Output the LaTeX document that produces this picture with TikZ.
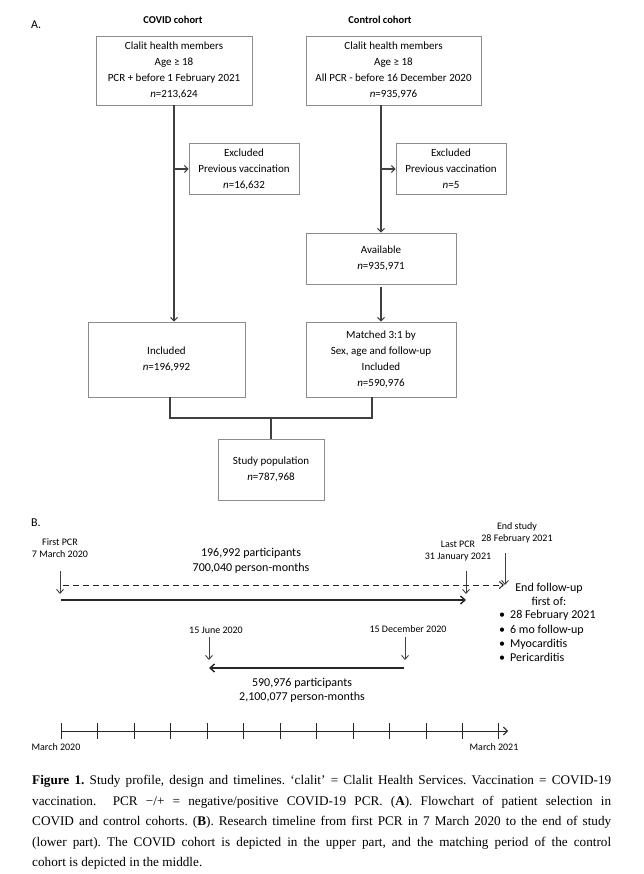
\documentclass[tikz,border=0pt]{standalone}
\usepackage{fontspec}
\setmainfont{Carlito}
\newfontfamily\capfont{Liberation Serif}
\usetikzlibrary{arrows.meta}
\definecolor{boxgray}{HTML}{8C8C8C}
\definecolor{linegray}{HTML}{404040}
\tikzset{
  box/.style={draw=boxgray, line width=0.8pt, align=center, inner sep=0pt,
    font=\fontsize{11}{16}\selectfont},
  conn/.style={draw=linegray, line width=1.1pt},
  arr/.style={conn, -{Straight Barb[length=3.5pt,width=7pt]}},
  lbl/.style={align=center, inner sep=0pt, font=\fontsize{10}{12}\selectfont},
  big/.style={align=center, inner sep=0pt, font=\fontsize{12}{15}\selectfont},
  head/.style={inner sep=0pt, font=\fontsize{10.5}{12}\selectfont\bfseries},
  tarr/.style={draw=linegray, line width=0.9pt, -{Straight Barb[length=4pt,width=7pt]}},
  tline/.style={draw=black!85, line width=1.4pt, -{Straight Barb[length=4.5pt,width=8pt]}},
  tick/.style={draw=black!85, line width=1pt}
}
\begin{document}
\begin{tikzpicture}[x=1pt,y=-1pt]
\useasboundingbox (0,0) rectangle (644,874);

% ---------- Part A ----------
\node[anchor=west, inner sep=0pt, font=\fontsize{12}{14}\selectfont] (lA) at (31,25) {A.};
\node[head] (hcovid) at (173,20) {COVID cohort};
\node[head] (hctrl) at (380,20) {Control cohort};

\node[box, minimum width=156pt, minimum height=69pt] (covid) at (174,70.5)
  {Clalit health members\\Age ≥ 18\\PCR + before 1 February 2021\\\textit{n}=213,624};
\node[box, minimum width=175pt, minimum height=69pt] (ctrl) at (393.5,70.5)
  {Clalit health members\\Age ≥ 18\\All PCR - before 16 December 2020\\\textit{n}=935,976};
\node[box, minimum width=110pt, minimum height=51pt] (exc1) at (244,169)
  {Excluded\\Previous vaccination\\\textit{n}=16,632};
\node[box, minimum width=110pt, minimum height=51pt] (exc2) at (451,169)
  {Excluded\\Previous vaccination\\\textit{n}=5};
\node[box, minimum width=150pt, minimum height=51pt] (avail) at (381,258.5)
  {Available\\\textit{n}=935,971};
\node[box, minimum width=157pt, minimum height=75pt] (incl) at (166.5,359.5)
  {Included\\\textit{n}=196,992};
\node[box, minimum width=150pt, minimum height=75pt] (match) at (381,359.5)
  {Matched 3:1 by\\Sex, age and follow-up\\Included\\\textit{n}=590,976};
\node[box, minimum width=106pt, minimum height=61pt] (study) at (271,469.5)
  {Study population\\\textit{n}=787,968};

\draw[arr] (covid.south) -- (covid.south |- incl.north);
\draw[arr] (covid.south |- exc1.west) -- (exc1.west);
\draw[arr] (ctrl.south -| avail.north) -- (avail.north);
\draw[arr] (avail.north |- exc2.west) -- (exc2.west);
\draw[arr, shorten <=3pt] (avail.south) -- (match.north);
\coordinate (join) at (271,418);
\draw[conn] ([xshift=3.5pt]incl.south) |- (join) -| ([xshift=-9pt]match.south);
\draw[conn] (join) -- (study.north);

% ---------- Part B ----------
\node[anchor=west, inner sep=0pt, font=\fontsize{12}{14}\selectfont] (lB) at (31,523) {B.};

\node[lbl] (fpcr) at (60,548.5) {First PCR\\7 March 2020};
\node[big] (covn) at (251,560.5) {196,992 participants\\700,040 person-months};
\node[lbl] (lpcr) at (458,551) {Last PCR\\31 January 2021};
\node[lbl] (estudy) at (517,532.5) {End study\\28 February 2021};
\node[align=center, inner sep=0pt, font=\fontsize{12}{14}\selectfont] (efu) at (549,594)
  {End follow-up\\first of:};
\node[anchor=west, align=left, inner sep=0pt, font=\fontsize{12}{14.2}\selectfont] (list) at (499,636)
  {•\hspace{5pt}28 February 2021\\•\hspace{5pt}6 mo follow-up\\•\hspace{5pt}Myocarditis\\•\hspace{5pt}Pericarditis};

\coordinate (fa0) at (60,571);   \coordinate (fa1) at (60,594);
\coordinate (la0) at (466,571);  \coordinate (la1) at (466,594);
\coordinate (ea0) at (505,553);  \coordinate (ea1) at (505,585);
\draw[tarr] (fa0) -- (fa1);
\draw[tarr] (la0) -- (la1);
\draw[tarr] (ea0) -- (ea1);

\coordinate (d0) at (63,585);  \coordinate (d1) at (504,585);
\draw[draw=black!85, line width=1pt, dash pattern=on 6pt off 4pt,
      -{Straight Barb[length=4pt,width=7pt]}] (d0) -- (d1);
\coordinate (s0) at (61,600);  \coordinate (s1) at (466,600);
\draw[tline] (s0) -- (s1);

\node[lbl] (jun) at (216,630) {15 June 2020};
\node[lbl] (dec) at (408,629) {15 December 2020};
\coordinate (ja0) at (209,637); \coordinate (ja1) at (209,660);
\coordinate (da0) at (405,637); \coordinate (da1) at (405,660);
\draw[tarr] (ja0) -- (ja1);
\draw[tarr] (da0) -- (da1);
\coordinate (c0) at (404,668); \coordinate (c1) at (209,668);
\draw[tline] (c0) -- (c1);
\node[align=center, inner sep=0pt, font=\fontsize{12}{14}\selectfont] (ctrn) at (302,690)
  {590,976 participants\\2,100,077 person-months};

\coordinate (ax0) at (61.5,731); \coordinate (ax1) at (508,731);
\draw[draw=black!85, line width=1pt, -{Straight Barb[length=4pt,width=8pt]}] (ax0) -- (ax1);
\foreach \k in {0,...,12} {
  \draw[tick] (61.5+36.45*\k,723) -- (61.5+36.45*\k,739);
}
\node[lbl] (m20) at (56,747) {March 2020};
\node[lbl] (m21) at (494,747) {March 2021};

% ---------- Caption ----------
\node[anchor=north west, inner sep=0pt, text width=579pt, align=justify,
      font=\capfont\fontsize{13.2}{20.5}\selectfont\frenchspacing] (cap) at (32,775)
 {\textbf{Figure 1.} Study profile, design and timelines. ‘clalit’ = Clalit Health Services. Vaccination = COVID-19\linebreak
 vaccination.\ \ PCR −/+ = negative/positive COVID-19 PCR. (\textbf{A}). Flowchart of patient selection in\linebreak
 COVID and control cohorts. (\textbf{B}). Research timeline from first PCR in 7 March 2020 to the end of study\linebreak
 (lower part). The COVID cohort is depicted in the upper part, and the matching period of the control\linebreak
 cohort is depicted in the middle.};
\end{tikzpicture}
\end{document}
